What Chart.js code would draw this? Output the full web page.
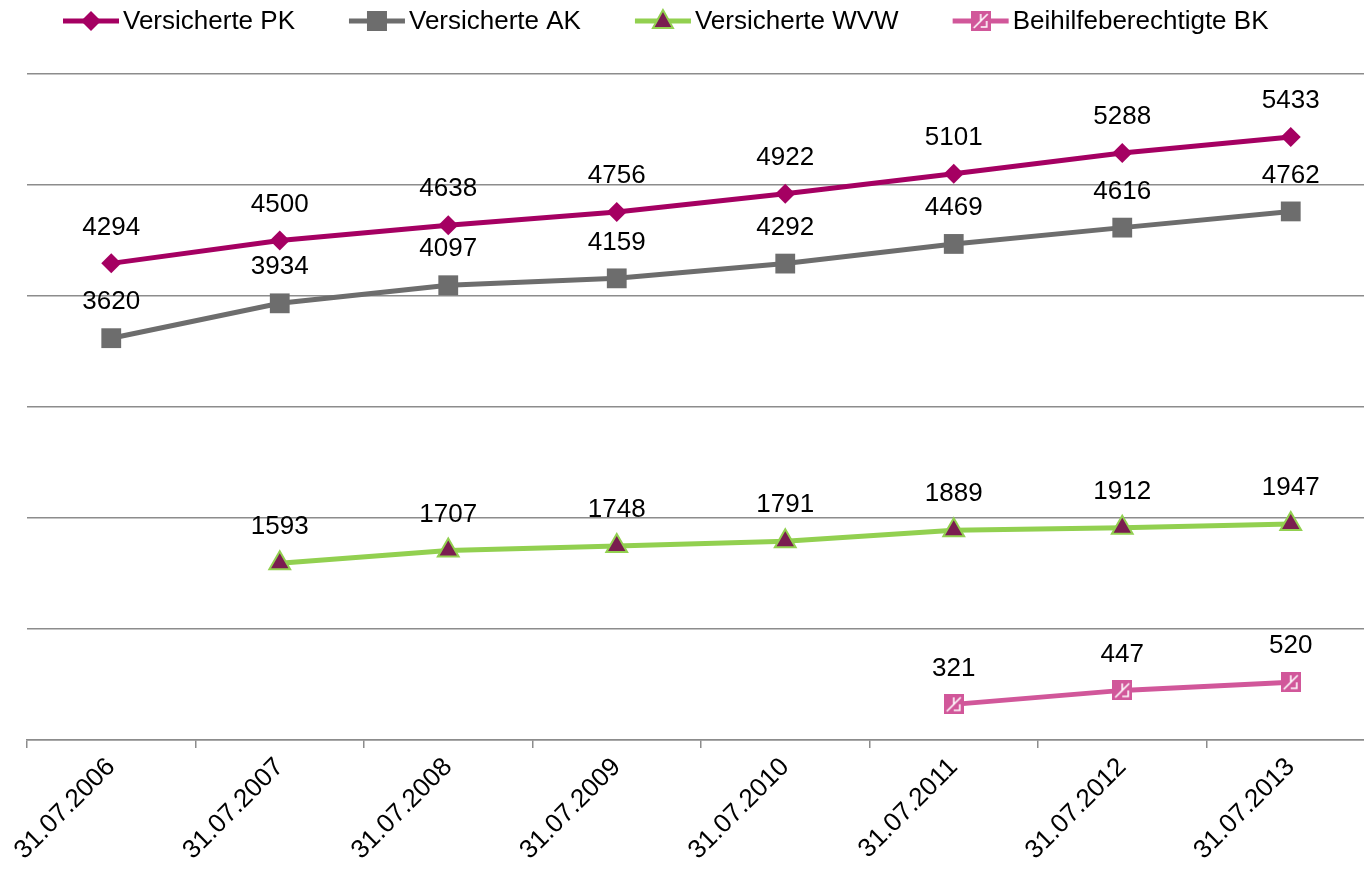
<!DOCTYPE html>
<html>
<head>
<meta charset="utf-8">
<script src="https://cdn.jsdelivr.net/npm/chart.js@4.4.0/dist/chart.umd.min.js"></script>
<style>
  html, body { margin: 0; padding: 0; background: #fff; overflow: hidden; }
  #wrap { width: 1375px; height: 869px; }
</style>
</head>
<body>
<div id="wrap"><canvas id="members-chart" width="1375" height="869"></canvas></div>
<script>
const FONT = "'Liberation Sans', Arial, sans-serif";

const dates = ["31.07.2006", "31.07.2007", "31.07.2008", "31.07.2009", "31.07.2010", "31.07.2011", "31.07.2012", "31.07.2013"];
const versichertePK = [4294, 4500, 4638, 4756, 4922, 5101, 5288, 5433];
const versicherteAK = [3620, 3934, 4097, 4159, 4292, 4469, 4616, 4762];
const versicherteWVW = [null, 1593, 1707, 1748, 1791, 1889, 1912, 1947];
const beihilfeBK = [null, null, null, null, null, 321, 447, 520];
const seriesNames = ["Versicherte PK", "Versicherte AK", "Versicherte WVW", "Beihilfeberechtigte BK"];

const pkColor = "#A50062";
const akColor = "#6D6D6D";
const wvwColor = "#92D050";
const wvwFill = "#7A1D50";
const bkColor = "#D1579A";

// hatched square marker for the BK series
const bkMarker = document.createElement("canvas");
bkMarker.width = 20;
bkMarker.height = 20;
(function () {
  const c = bkMarker.getContext("2d");
  c.fillStyle = bkColor;
  c.fillRect(0, 0, 20, 20);
  c.strokeStyle = "#fff";
  c.lineWidth = 1.6;
  c.beginPath();
  c.moveTo(3, 17); c.lineTo(17, 3);
  c.moveTo(10, 3); c.lineTo(10, 10);
  c.moveTo(10, 16); c.lineTo(16, 16); c.lineTo(16, 10);
  c.stroke();
})();

const drawMarker = (ctx, kind, x, y) => {
  ctx.save();
  if (kind === 0) {
    ctx.fillStyle = pkColor;
    ctx.beginPath();
    ctx.moveTo(x, y - 10); ctx.lineTo(x + 10, y); ctx.lineTo(x, y + 10); ctx.lineTo(x - 10, y);
    ctx.closePath();
    ctx.fill();
  } else if (kind === 1) {
    ctx.fillStyle = akColor;
    ctx.fillRect(x - 10, y - 10, 20, 20);
  } else if (kind === 2) {
    ctx.fillStyle = wvwFill;
    ctx.strokeStyle = wvwColor;
    ctx.lineWidth = 2;
    ctx.beginPath();
    ctx.moveTo(x, y - 11); ctx.lineTo(x + 10, y + 7); ctx.lineTo(x - 10, y + 7);
    ctx.closePath();
    ctx.fill();
    ctx.stroke();
  } else {
    ctx.drawImage(bkMarker, x - 10, y - 10);
  }
  ctx.restore();
};

const lineLegend = {
  id: "lineLegend",
  afterDraw(chart) {
    const ctx = chart.ctx;
    const colors = [pkColor, akColor, wvwColor, bkColor];
    ctx.save();
    ctx.font = "26px " + FONT;
    ctx.textBaseline = "middle";
    ctx.fillStyle = "#000";
    let x = 63;
    const y = 21;
    seriesNames.forEach((name, i) => {
      ctx.strokeStyle = colors[i];
      ctx.lineWidth = 5;
      ctx.beginPath();
      ctx.moveTo(x, y);
      ctx.lineTo(x + 56, y);
      ctx.stroke();
      drawMarker(ctx, i, x + 28, y);
      ctx.fillText(name, x + 60, y + 1);
      x += 60 + ctx.measureText(name).width + 54;
    });
    ctx.restore();
  }
};

const valueLabels = {
  id: "valueLabels",
  afterDatasetsDraw(chart) {
    const ctx = chart.ctx;
    ctx.save();
    ctx.font = "26px " + FONT;
    ctx.fillStyle = "#000";
    ctx.textAlign = "center";
    ctx.textBaseline = "middle";
    chart.data.datasets.forEach((ds, i) => {
      const meta = chart.getDatasetMeta(i);
      meta.data.forEach((pt, j) => {
        if (ds.data[j] === null) return;
        ctx.fillText(String(ds.data[j]), pt.x, pt.y - 36);
      });
    });
    ctx.restore();
  }
};

const ctx = document.getElementById("members-chart").getContext("2d");
new Chart(ctx, {
  type: "line",
  data: {
    labels: dates,
    datasets: [
      {
        label: seriesNames[0],
        data: versichertePK,
        borderColor: pkColor,
        backgroundColor: pkColor,
        borderWidth: 5,
        pointStyle: "rectRot",
        pointRadius: 10,
        pointBorderWidth: 0
      },
      {
        label: seriesNames[1],
        data: versicherteAK,
        borderColor: akColor,
        backgroundColor: akColor,
        borderWidth: 5,
        pointStyle: "rect",
        pointRadius: 14,
        pointBorderWidth: 0
      },
      {
        label: seriesNames[2],
        data: versicherteWVW,
        borderColor: wvwColor,
        backgroundColor: wvwFill,
        pointBorderColor: wvwColor,
        borderWidth: 5,
        pointStyle: "triangle",
        pointRadius: 12,
        pointBorderWidth: 2
      },
      {
        label: seriesNames[3],
        data: beihilfeBK,
        borderColor: bkColor,
        backgroundColor: bkColor,
        borderWidth: 5,
        pointStyle: bkMarker
      }
    ]
  },
  options: {
    responsive: false,
    animation: false,
    layout: { autoPadding: false, padding: { left: 27, right: 0, top: 74, bottom: 0 } },
    plugins: {
      legend: { display: false },
      tooltip: { enabled: false }
    },
    scales: {
      x: {
        offset: true,
        grid: {
          offset: true,
          drawOnChartArea: false,
          drawTicks: true,
          tickLength: 8,
          color: "#8C8C8C",
          lineWidth: 1.5
        },
        border: { display: true, color: "#8C8C8C", width: 1.5 },
        ticks: {
          minRotation: 45,
          maxRotation: 45,
          color: "#000",
          padding: 4,
          font: { family: FONT, size: 26 }
        },
        afterFit: (scale) => {
          scale.height = 129;
          scale.paddingLeft = 0;
          scale.paddingRight = 0;
        }
      },
      y: {
        min: 0,
        max: 6000,
        ticks: { display: false, stepSize: 1000 },
        grid: { color: "#8C8C8C", lineWidth: 1.5, drawTicks: false },
        border: { display: false },
        afterFit: (scale) => { scale.width = 0; }
      }
    }
  },
  plugins: [valueLabels, lineLegend]
});
</script>
</body>
</html>
